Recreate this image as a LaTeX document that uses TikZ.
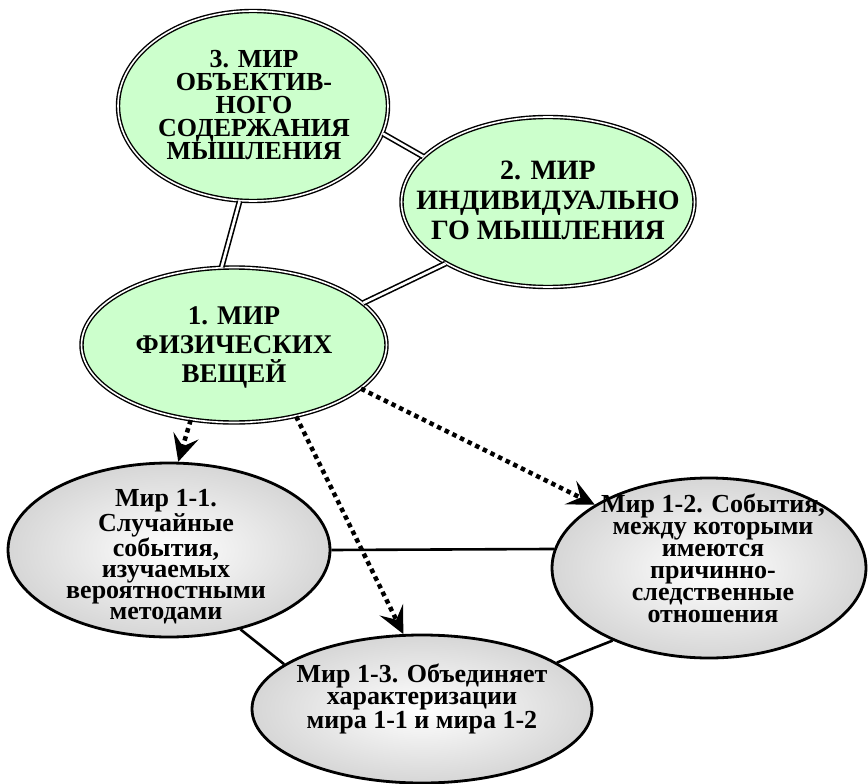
\documentclass[tikz,border=0pt]{standalone}
\usepackage{fontspec}
\setmainfont{Liberation Serif}
\usetikzlibrary{shapes.geometric,arrows.meta}
\definecolor{mint}{RGB}{204,255,204}

\begin{document}
\begin{tikzpicture}[x=1pt,y=-1pt,
    world/.style={ellipse,inner sep=0pt},
    greenworld/.style={world,draw,fill=mint,double=white,double distance=1.6pt,line width=1.4pt},
    grayworld/.style={world,draw,line width=2.8pt,inner color=white,outer color=black!16},
    caption/.style={align=center,inner sep=0pt},
    twin/.style={line width=1.6pt,double=white,double distance=2.6pt},
    link/.style={line width=2.6pt},
    ray/.style={line width=4.5pt,dash pattern=on 4.5pt off 4pt,-{Stealth[length=27pt,width=26pt,inset=11pt]}}]
    \useasboundingbox (0,0) rectangle (868,784);
    % the three worlds
    \node[greenworld,minimum width=270pt,minimum height=190pt] (w3) at (253,106) {};
    \node[caption,font=\bfseries\fontsize{26}{23}\selectfont] (w3t) at (254,105)
          {3. МИР\\ОБЪЕКТИВ-\\НОГО\\СОДЕРЖАНИЯ\\МЫШЛЕНИЯ};
    \node[greenworld,minimum width=293pt,minimum height=170pt] (w2) at (548,202) {};
    \node[caption,font=\bfseries\fontsize{28}{30}\selectfont] (w2t) at (548,200)
          {2. МИР\\ИНДИВИДУАЛЬНО\\ГО МЫШЛЕНИЯ};
    \node[greenworld,minimum width=305pt,minimum height=155pt] (w1) at (234,345) {};
    \node[caption,font=\bfseries\fontsize{27}{29}\selectfont] (w1t) at (234,347)
          {1. МИР\\ФИЗИЧЕСКИХ\\ВЕЩЕЙ};
    % subworlds of world 1
    \node[grayworld,minimum width=322pt,minimum height=174pt] (w11) at (169,550) {};
    \node[caption,font=\bfseries\fontsize{26}{21}\selectfont] (w11t) at (166,557)
          {Мир 1-1.\\Случайные\\события,\\изучаемых\\вероятностными\\методами};
    \node[grayworld,minimum width=314pt,minimum height=180pt] (w12) at (709,568) {};
    \node[caption,font=\bfseries\fontsize{26}{22}\selectfont] (w12t) at (713,558)
          {Мир 1-2. События,\\между которыми\\имеются\\причинно-\\следственные\\отношения};
    \node[grayworld,minimum width=340pt,minimum height=148pt] (w13) at (422,709) {};
    \node[caption,font=\bfseries\fontsize{26}{22}\selectfont] (w13t) at (422,699)
          {Мир 1-3. Объединяет\\характеризации\\мира 1-1 и мира 1-2};
    % links
    \draw[twin] (w3.-12) -- (w2.160);
    \draw[twin] (w3.262) -- (w1.99);
    \draw[twin] (w1.18) -- (w2.211);
    \draw[link] (w11.0) -- (w12.173);
    \draw[link] (w11.-48) -- (w13.162);
    \draw[link] (w13.19) -- (w12.217);
    \draw[ray] (w1.240) -- (w11.84);
    \draw[ray] (w1.-49) -- (w13.104);
    \draw[ray] (w1.-19) -- (w12.151);
\end{tikzpicture}
\end{document}
